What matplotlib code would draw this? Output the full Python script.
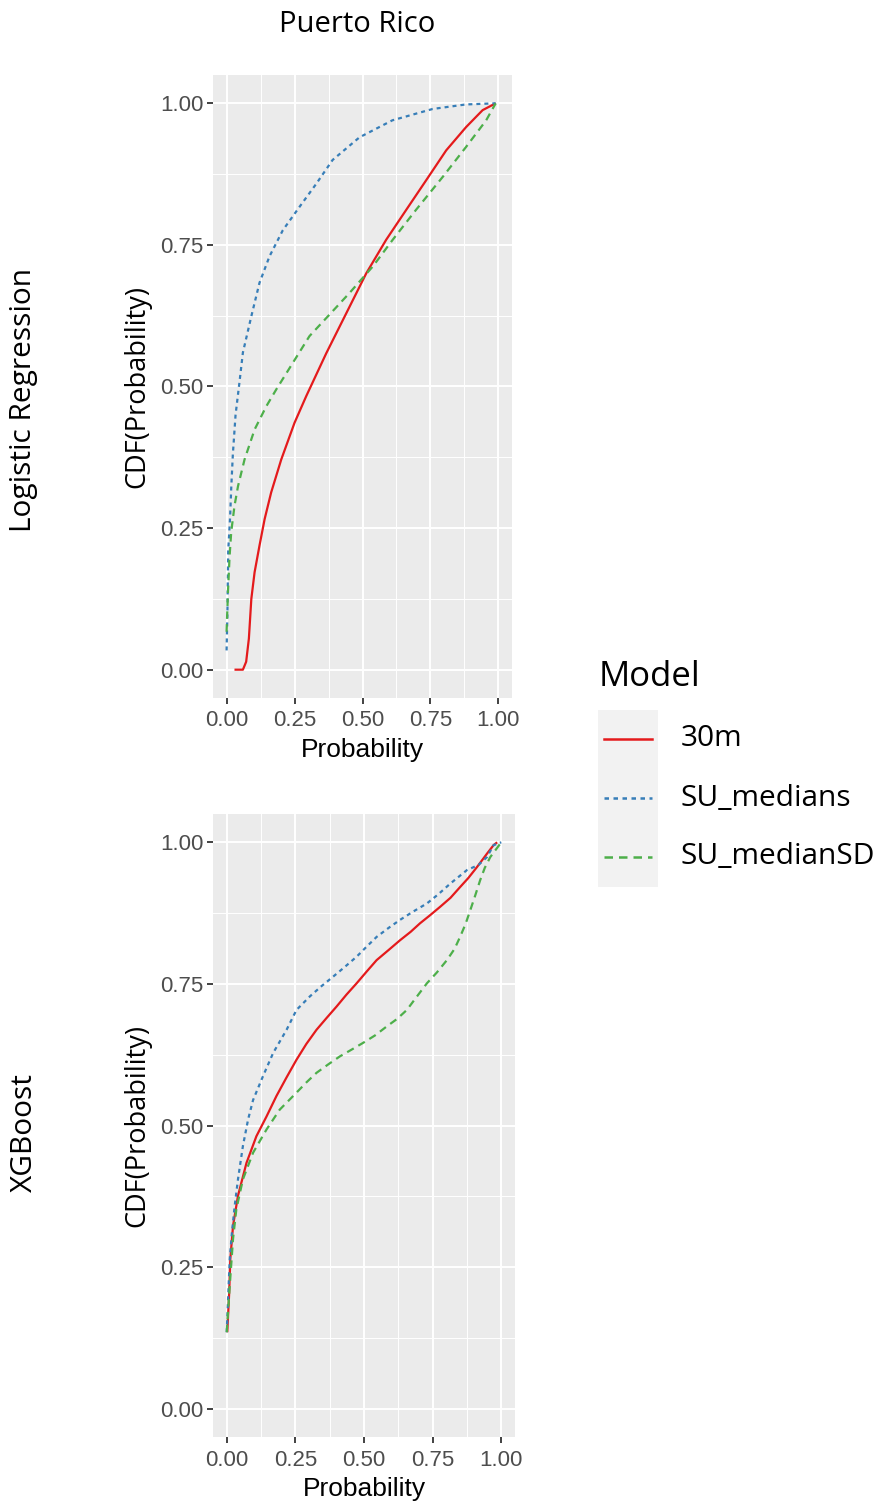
import matplotlib.pyplot as plt
from matplotlib.ticker import MultipleLocator

# series names and colours (Set1)
models = ["30m", "SU_medians", "SU_medianSD"]
colors = ["#E41A1C", "#377EB8", "#4DAF4A"]
dashes = [None, (1.8, 1.8), (3.4, 2.4)]

row_labels = ["Logistic Regression", "XGBoost"]
ticks = [0.0, 0.25, 0.5, 0.75, 1.0]
tick_labels = ["0.00", "0.25", "0.50", "0.75", "1.00"]

# Logistic Regression
lr_30m_x = [0.029, 0.06, 0.072, 0.082, 0.091, 0.103, 0.121, 0.14, 0.164, 0.201, 0.25, 0.293,
            0.367, 0.44, 0.514, 0.587, 0.661, 0.734, 0.808, 0.881, 0.942, 0.99]
lr_30m_y = [0.0, 0.0, 0.014, 0.055, 0.125, 0.172, 0.219, 0.266, 0.313, 0.371, 0.436, 0.483,
            0.559, 0.629, 0.70, 0.759, 0.812, 0.864, 0.917, 0.958, 0.988, 1.0]
lr_med_x = [0.0, 0.003, 0.006, 0.013, 0.017, 0.023, 0.033, 0.048, 0.06, 0.091, 0.121, 0.158,
            0.207, 0.268, 0.33, 0.39, 0.489, 0.61, 0.758, 0.88, 0.99]
lr_med_y = [0.034, 0.10, 0.21, 0.27, 0.32, 0.38, 0.45, 0.51, 0.56, 0.624, 0.683, 0.73,
            0.776, 0.817, 0.858, 0.90, 0.94, 0.97, 0.99, 0.998, 1.0]
lr_sd_x = [0.0, 0.005, 0.011, 0.017, 0.029, 0.042, 0.066, 0.103, 0.146, 0.183, 0.244, 0.305,
           0.367, 0.452, 0.538, 0.611, 0.697, 0.795, 0.881, 0.955, 0.99]
lr_sd_y = [0.067, 0.137, 0.20, 0.243, 0.289, 0.324, 0.371, 0.424, 0.465, 0.495, 0.542, 0.589,
           0.621, 0.665, 0.712, 0.759, 0.812, 0.870, 0.923, 0.97, 1.0]

# XGBoost
xgb_30m_x = [0.002, 0.009, 0.013, 0.023, 0.041, 0.072, 0.108, 0.145, 0.181, 0.218, 0.254, 0.29,
             0.327, 0.364, 0.40, 0.436, 0.473, 0.51, 0.546, 0.59, 0.631, 0.67, 0.704, 0.74,
             0.777, 0.815, 0.85, 0.88, 0.911, 0.948, 0.972, 0.985]
xgb_30m_y = [0.135, 0.205, 0.264, 0.323, 0.376, 0.434, 0.481, 0.516, 0.552, 0.585, 0.616, 0.644,
             0.669, 0.69, 0.71, 0.731, 0.751, 0.772, 0.792, 0.81, 0.827, 0.842, 0.857, 0.871,
             0.886, 0.902, 0.921, 0.937, 0.956, 0.98, 0.995, 1.0]
xgb_med_x = [0.0, 0.005, 0.011, 0.019, 0.029, 0.041, 0.059, 0.078, 0.096, 0.132, 0.169, 0.218,
             0.254, 0.303, 0.345, 0.388, 0.43, 0.473, 0.51, 0.546, 0.59, 0.631, 0.68, 0.729,
             0.77, 0.814, 0.875, 0.917, 0.948, 0.972, 1.0]
xgb_med_y = [0.135, 0.194, 0.264, 0.311, 0.358, 0.405, 0.464, 0.511, 0.545, 0.587, 0.628, 0.669,
             0.704, 0.728, 0.746, 0.763, 0.78, 0.798, 0.816, 0.833, 0.849, 0.863, 0.878, 0.892,
             0.908, 0.927, 0.951, 0.96, 0.974, 0.995, 1.0]
xgb_sd_x = [0.0, 0.011, 0.023, 0.035, 0.059, 0.096, 0.145, 0.193, 0.254, 0.29, 0.327, 0.37,
            0.412, 0.455, 0.497, 0.54, 0.583, 0.62, 0.656, 0.69, 0.729, 0.765, 0.802, 0.83,
            0.85, 0.87, 0.887, 0.905, 0.923, 0.94, 0.96, 1.0]
xgb_sd_y = [0.135, 0.217, 0.30, 0.352, 0.405, 0.452, 0.493, 0.528, 0.558, 0.576, 0.593, 0.608,
            0.622, 0.634, 0.646, 0.659, 0.675, 0.688, 0.704, 0.726, 0.751, 0.77, 0.792, 0.812,
            0.833, 0.856, 0.88, 0.906, 0.933, 0.955, 0.974, 1.0]

panels = [
    [(lr_30m_x, lr_30m_y), (lr_med_x, lr_med_y), (lr_sd_x, lr_sd_y)],
    [(xgb_30m_x, xgb_30m_y), (xgb_med_x, xgb_med_y), (xgb_sd_x, xgb_sd_y)],
]

W, H = 882, 1505
fig = plt.figure(figsize=(W / 100, H / 100), dpi=100)
fig.patch.set_facecolor("white")

ui_font = ["Open Sans", "DejaVu Sans"]
ax_font = ["Liberation Sans", "DejaVu Sans"]

# axes boxes in pixels: left, top, right, bottom
boxes = [(213, 75, 512, 698), (213, 814, 515, 1437)]
row_y = [400, 1133]


def style_axes(ax):
    ax.set_facecolor("#EBEBEB")
    ax.set_xlim(-0.05, 1.05)
    ax.set_ylim(-0.05, 1.05)
    ax.xaxis.set_minor_locator(MultipleLocator(0.125))
    ax.yaxis.set_minor_locator(MultipleLocator(0.125))
    ax.set_xticks(ticks, tick_labels)
    ax.set_yticks(ticks, tick_labels)
    ax.grid(which="major", color="white", linewidth=1.4)
    ax.grid(which="minor", color="white", linewidth=0.7)
    ax.set_axisbelow(True)
    for s in ax.spines.values():
        s.set_visible(False)
    ax.tick_params(which="major", length=4, width=1.3, color="#333333",
                   labelcolor="#4D4D4D", labelsize=16, pad=3)
    ax.tick_params(axis="x", which="major", pad=5)
    ax.tick_params(which="minor", length=0)
    for lab in ax.get_xticklabels() + ax.get_yticklabels():
        lab.set_family(ax_font)


for i, (l, t, r, b) in enumerate(boxes):
    ax = fig.add_axes([l / W, 1 - b / H, (r - l) / W, (b - t) / H])
    style_axes(ax)
    for (xs, ys), c, d in zip(panels[i], colors, dashes):
        line, = ax.plot(xs, ys, color=c, linewidth=1.6, solid_capstyle="butt")
        if d is not None:
            line.set_dashes(d)
    ax.set_xlabel("Probability", fontsize=19, family=ax_font, color="black", labelpad=5)
    ax.set_ylabel("CDF(Probability)", fontsize=19.5, family=ui_font, color="black", labelpad=6)
    fig.text(24 / W, 1 - row_y[i] / H, row_labels[i], rotation=90, fontsize=21.5,
             family=ui_font, ha="center", va="center")

fig.text(357 / W, 1 - 24 / H, "Puerto Rico", fontsize=21, family=ui_font,
         ha="center", va="center")

# legend
fig.text(599 / W, 1 - 677 / H, "Model", fontsize=25, family=ui_font,
         ha="left", va="center")
lg = fig.add_axes([598 / W, 1 - 887 / H, 60 / W, 177 / H])
lg.set_facecolor("#F2F2F2")
lg.set_xlim(0, 1)
lg.set_ylim(887, 710)
lg.set_xticks([])
lg.set_yticks([])
for s in lg.spines.values():
    s.set_visible(False)
key_y = [739, 798, 857]
for name, c, d, y in zip(models, colors, dashes, key_y):
    line, = lg.plot([0.1, 0.9], [y, y], color=c, linewidth=1.8)
    if d is not None:
        line.set_dashes(d)
    fig.text(681 / W, 1 - y / H, name, fontsize=21.5, family=ui_font,
             ha="left", va="center")

fig.savefig("out.png", dpi=100)
